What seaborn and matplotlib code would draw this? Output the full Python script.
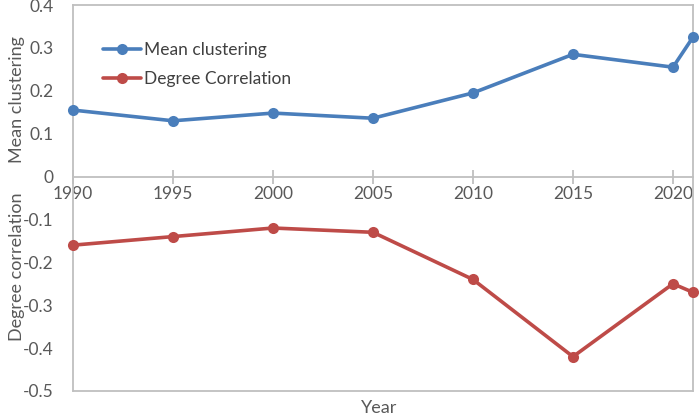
import numpy as np
import pandas as pd
import matplotlib
matplotlib.use('Agg')
import matplotlib.pyplot as plt
import seaborn as sns

years = [1990, 1995, 2000, 2005, 2010, 2015, 2020, 2021]
mean_clustering = [0.155, 0.130, 0.148, 0.136, 0.195, 0.285, 0.255, 0.325]
degree_corr = [-0.160, -0.140, -0.120, -0.130, -0.240, -0.420, -0.250, -0.270]
y_ticks = [0.4, 0.3, 0.2, 0.1, 0, -0.1, -0.2, -0.3, -0.4, -0.5]
y_tick_labels = ['0.4', '0.3', '0.2', '0.1', '0', '-0.1', '-0.2', '-0.3', '-0.4', '-0.5']
x_ticks = [1990, 1995, 2000, 2005, 2010, 2015, 2020]

sns.set_style('white')
plt.rcParams['font.family'] = ['Lato', 'DejaVu Sans']

BLUE = '#4a7ebb'
RED = '#be4b48'
GRAY = '#bfbfbf'
TXT = '#595959'

df = pd.DataFrame({'Year': years, 'Mean clustering': mean_clustering,
                   'Degree Correlation': degree_corr})

fig = plt.figure(figsize=(6.99, 4.17), dpi=100)
ax = fig.add_axes([0.1044, 0.0624, 0.887, 0.9256])

sns.lineplot(data=df, x='Year', y='Mean clustering', ax=ax, color=BLUE, lw=2.6,
             marker='o', markersize=8, markeredgewidth=0, label='Mean clustering',
             clip_on=False, zorder=5)
sns.lineplot(data=df, x='Year', y='Degree Correlation', ax=ax, color=RED, lw=2.6,
             marker='o', markersize=8, markeredgewidth=0, label='Degree Correlation',
             clip_on=False, zorder=5)

ax.set_xlim(1990, 2021)
ax.set_ylim(-0.5, 0.4)
ax.set_yticks(y_ticks)
ax.set_yticklabels(y_tick_labels)
ax.tick_params(axis='y', length=0, pad=14, labelsize=12.5, labelcolor=TXT)
ax.set_xlabel('')
ax.set_ylabel('')
for s in ax.spines.values():
    s.set_color(GRAY)
    s.set_linewidth(1.3)

# year axis drawn along the zero line, bottom border kept as a plain line
ax.spines['bottom'].set_position(('data', 0))
ax.axhline(-0.5, color=GRAY, lw=1.3, clip_on=False, zorder=1)
ax.set_xticks(x_ticks)
ax.set_xticklabels([str(y) for y in x_ticks])
ax.tick_params(axis='x', bottom=True, direction='inout', length=10, width=1.3,
               color=GRAY, labelsize=12.5, labelcolor=TXT, pad=2)

ax.text(-0.09, 0.18, 'Mean clustering', transform=ax.get_yaxis_transform(),
        rotation=90, ha='center', va='center', fontsize=13, color=TXT)
ax.text(-0.09, -0.21, 'Degree correlation', transform=ax.get_yaxis_transform(),
        rotation=90, ha='center', va='center', fontsize=13, color=TXT)
fig.text(0.543, 0.002, 'Year', ha='center', va='bottom', fontsize=13, color=TXT)

leg = ax.legend(loc='upper left', bbox_to_anchor=(0.023, 0.945), frameon=False,
                fontsize=12.5, labelspacing=0.75, handlelength=2.2, handletextpad=0.15)
for t in leg.get_texts():
    t.set_color('#404040')

fig.savefig('out.png', dpi=100)
